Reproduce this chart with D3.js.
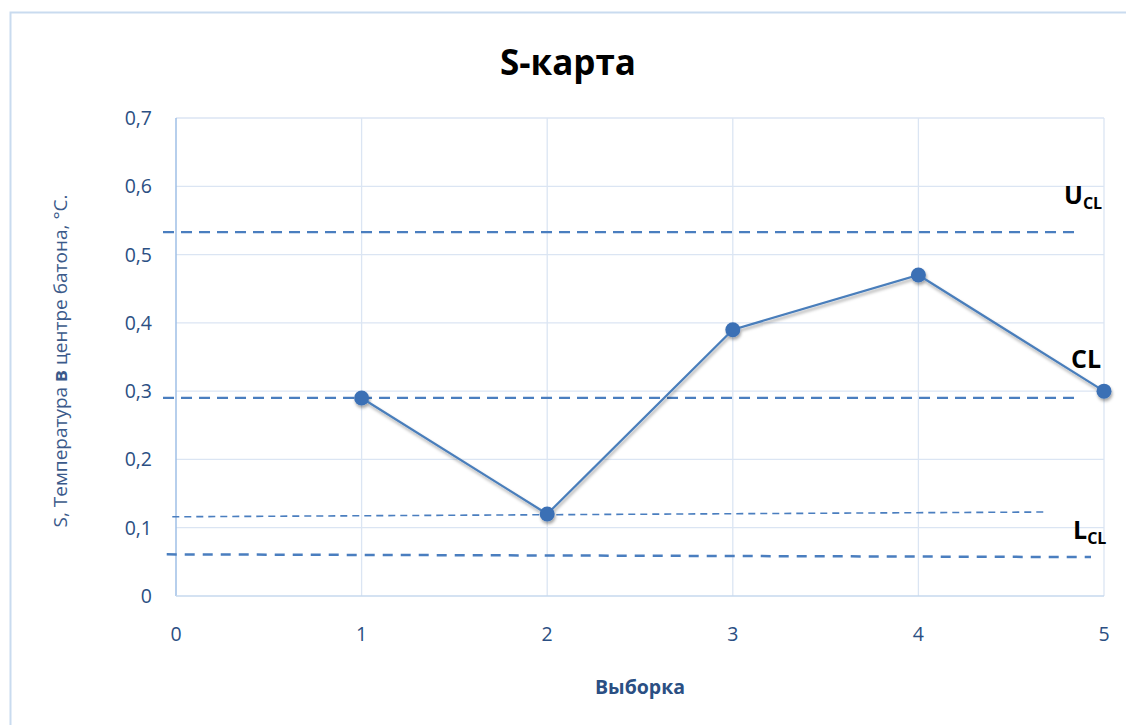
<!DOCTYPE html>
<html>
<head>
<meta charset="utf-8">
<script src="https://cdn.jsdelivr.net/npm/d3@7"></script>
<style>
  html, body { margin: 0; padding: 0; background: #fff; }
  svg { display: block; font-family: "Open Sans", "Noto Sans", sans-serif; }
</style>
</head>
<body>
<svg id="chart" width="1126" height="725"></svg>
<script>
// ---- data ----
const samples = [1, 2, 3, 4, 5];
const sValues = [0.29, 0.12, 0.39, 0.47, 0.30];
const xTicks = [0, 1, 2, 3, 4, 5];
const yTicks = [0, 0.1, 0.2, 0.3, 0.4, 0.5, 0.6, 0.7];
const yTickLabels = ["0", "0,1", "0,2", "0,3", "0,4", "0,5", "0,6", "0,7"];
// control lines: [xStart, yStart, xEnd, yEnd] in data units
const uclLine = [-0.07, 0.533, 4.87, 0.533];
const clLine = [-0.07, 0.290, 4.87, 0.290];
const thinLine = [-0.02, 0.116, 4.68, 0.123];
const lclLine = [-0.05, 0.061, 4.93, 0.057];
const titleText = "S-карта";
const xLabel = "Выборка";

// ---- layout ----
const svg = d3.select("#chart");
const margin = { left: 176, right: 1126 - 1104, top: 118, bottom: 725 - 596 };
const W = 1126, H = 725;
const x = d3.scaleLinear().domain([0, 5]).range([margin.left, W - margin.right]);
const y = d3.scaleLinear().domain([0, 0.7]).range([H - margin.bottom, margin.top]);

const defs = svg.append("defs");
const f = defs.append("filter").attr("id", "shadow").attr("x", "-20%").attr("y", "-20%").attr("width", "140%").attr("height", "160%");
f.append("feDropShadow").attr("dx", 1).attr("dy", 2.5).attr("stdDeviation", 1.8).attr("flood-color", "#000").attr("flood-opacity", 0.35);

// outer border
svg.append("rect").attr("x", 10.5).attr("y", 12.5).attr("width", 1130).attr("height", 730)
  .attr("fill", "#fff").attr("stroke", "#c9dbef").attr("stroke-width", 2);

// grid
const gridColor = "#dbe5f3";
svg.append("g").selectAll("line").data(yTicks.slice(1)).join("line")
  .attr("x1", x(0)).attr("x2", x(5)).attr("y1", d => y(d)).attr("y2", d => y(d))
  .attr("stroke", gridColor).attr("stroke-width", 1.3);
svg.append("g").selectAll("line").data(xTicks.slice(1)).join("line")
  .attr("y1", y(0)).attr("y2", y(0.7)).attr("x1", d => x(d)).attr("x2", d => x(d))
  .attr("stroke", gridColor).attr("stroke-width", 1.3);

// axes lines
svg.append("line").attr("x1", x(0)).attr("x2", x(0)).attr("y1", y(0)).attr("y2", y(0.7))
  .attr("stroke", "#9fbfe6").attr("stroke-width", 1.5);
svg.append("line").attr("x1", x(0)).attr("x2", x(5)).attr("y1", y(0)).attr("y2", y(0))
  .attr("stroke", "#c6d8ee").attr("stroke-width", 1.5);

// tick labels
const tickColor = "#2b4f83";
svg.append("g").selectAll("text").data(yTicks).join("text")
  .attr("x", 152).attr("y", d => y(d) + 7)
  .attr("text-anchor", "end").attr("fill", tickColor).attr("font-size", 19.5)
  .text((d, i) => yTickLabels[i]);
svg.append("g").selectAll("text").data(xTicks).join("text")
  .attr("x", d => x(d)).attr("y", 641)
  .attr("text-anchor", "middle").attr("fill", tickColor).attr("font-size", 19.5)
  .text(d => d);

// control lines
function ctrl(l, w, dash) {
  svg.append("line")
    .attr("x1", x(l[0])).attr("y1", y(l[1])).attr("x2", x(l[2])).attr("y2", y(l[3]))
    .attr("stroke", "#4a7ebf").attr("stroke-width", w).attr("stroke-dasharray", dash);
}
ctrl(uclLine, 2.2, "11,7");
ctrl(clLine, 2.2, "11,7");
ctrl(thinLine, 1.6, "7,5");
ctrl(lclLine, 2.5, "10,8");

// data series
const pts = samples.map((s, i) => [s, sValues[i]]);
const g = svg.append("g").attr("filter", "url(#shadow)");
g.append("path").datum(pts)
  .attr("d", d3.line().x(d => x(d[0])).y(d => y(d[1])))
  .attr("fill", "none").attr("stroke", "#4a7ebb").attr("stroke-width", 2.2);
g.selectAll("circle").data(pts).join("circle")
  .attr("cx", d => x(d[0])).attr("cy", d => y(d[1])).attr("r", 7.5)
  .attr("fill", "#3b70b5");

// control labels
function lbl(xx, yy, main, sub) {
  const t = svg.append("text").attr("x", xx).attr("y", yy)
    .attr("font-size", 25).attr("font-weight", "bold").attr("fill", "#000");
  t.append("tspan").text(main);
  if (sub) t.append("tspan").attr("font-size", 16).attr("dy", 5).text(sub);
}
lbl(1064, 204, "U", "CL");
lbl(1071, 368, "CL", null);
lbl(1073, 539, "L", "CL");

// title
svg.append("text").attr("x", 568).attr("y", 75).attr("text-anchor", "middle")
  .attr("font-size", 35).attr("font-weight", "bold").attr("fill", "#000").text(titleText);

// x label
svg.append("text").attr("x", 640).attr("y", 694).attr("text-anchor", "middle")
  .attr("font-size", 19.5).attr("font-weight", "bold").attr("fill", tickColor).text(xLabel);

// y label
const yl = svg.append("text").attr("transform", "translate(67,361) rotate(-90)")
  .attr("text-anchor", "middle").attr("font-size", 19).attr("fill", "#3b5a8a");
yl.append("tspan").text("S, Температура ");
yl.append("tspan").attr("font-weight", "bold").text("в");
yl.append("tspan").text(" центре батона, \u00B0C.");
</script>
</body>
</html>
